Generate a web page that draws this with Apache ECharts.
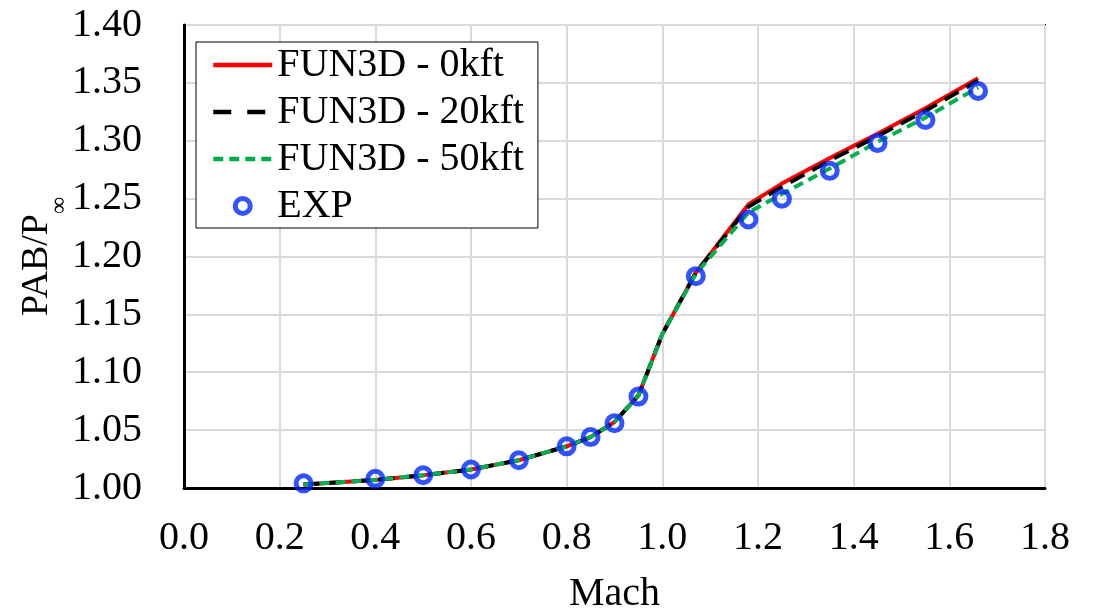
<!DOCTYPE html>
<html>
<head>
<meta charset="utf-8">
<script src="https://cdn.jsdelivr.net/npm/echarts@6/dist/echarts.min.js"></script>
<style>
  html, body { margin: 0; padding: 0; background: #fff; }
  #chart { width: 1096px; height: 610px; }
</style>
</head>
<body>
<div id="chart"></div>
<script>
// Mach numbers of the CFD runs and of the wind tunnel points
const machCfd = [0.25, 0.4, 0.5, 0.6, 0.7, 0.8, 0.85, 0.9, 0.95, 1.0, 1.07, 1.18, 1.25, 1.35, 1.45, 1.55, 1.66]
const fun3d0 = [1.003, 1.007, 1.011, 1.016, 1.024, 1.036, 1.044, 1.057, 1.080, 1.133, 1.186, 1.245, 1.263, 1.285, 1.306, 1.328, 1.354]
const fun3d20 = [1.003, 1.007, 1.011, 1.016, 1.024, 1.036, 1.044, 1.057, 1.080, 1.133, 1.186, 1.243, 1.260, 1.283, 1.304, 1.326, 1.352]
const fun3d50 = [1.003, 1.007, 1.011, 1.016, 1.024, 1.036, 1.044, 1.057, 1.080, 1.133, 1.185, 1.238, 1.254, 1.276, 1.299, 1.320, 1.346]

const machExp = [0.25, 0.4, 0.5, 0.6, 0.7, 0.8, 0.85, 0.9, 0.95, 1.07, 1.18, 1.25, 1.35, 1.45, 1.55, 1.66]
const expData = [1.004, 1.008, 1.011, 1.016, 1.024, 1.036, 1.044, 1.056, 1.079, 1.183, 1.232, 1.250, 1.274, 1.298, 1.318, 1.343]

const seriesNames = ['FUN3D - 0kft', 'FUN3D - 20kft', 'FUN3D - 50kft', 'EXP']

const zip = (xs, ys) => xs.map((x, i) => [x, ys[i]])
const font = 'Liberation Serif'
const blue = '#0028ff'

const chart = echarts.init(document.getElementById('chart'))
chart.setOption({
    animation: false,
    textStyle: { fontFamily: font, color: '#000' },
    grid: {
        left: 184,
        right: 51,
        top: 25,
        bottom: 122,
        outerBoundsMode: 'none',
        show: true,
        borderColor: '#000',
        borderWidth: 2,
        backgroundColor: '#fff'
    },
    legend: {
        orient: 'vertical',
        left: 196,
        top: 42,
        padding: [3, 14, 2, 15],
        itemGap: 7,
        itemWidth: 59,
        itemHeight: 15,
        backgroundColor: '#fff',
        borderColor: '#000',
        borderWidth: 1,
        textStyle: { fontFamily: font, fontSize: 40, color: '#000' },
        // 线条图例不画小圆点
        data: [
            { name: seriesNames[0], itemStyle: { opacity: 0 }, lineStyle: { width: 4.5 } },
            { name: seriesNames[1], itemStyle: { opacity: 0 }, lineStyle: { width: 4.5, type: [18, 16] } },
            { name: seriesNames[2], itemStyle: { opacity: 0 }, lineStyle: { width: 4.5 } },
            { name: seriesNames[3], itemStyle: { borderWidth: 5, borderColor: blue, color: 'rgba(0,0,0,0)' } }
        ]
    },
    xAxis: {
        type: 'value',
        min: 0,
        max: 1.8,
        interval: 0.2,
        name: 'Mach',
        nameLocation: 'middle',
        nameGap: 86,
        nameMoveOverlap: false,
        nameTextStyle: { fontFamily: font, fontSize: 40, color: '#000' },
        axisLine: { lineStyle: { color: '#000', width: 3 } },
        axisTick: { show: false },
        axisLabel: {
            margin: 30,
            fontFamily: font,
            fontSize: 40,
            color: '#000',
            formatter: v => v.toFixed(1)
        },
        splitLine: { lineStyle: { color: '#d9d9d9', width: 2 } }
    },
    yAxis: {
        type: 'value',
        min: 1.0,
        max: 1.4,
        interval: 0.05,
        name: '{a|PAB/P}{b|∞}',
        nameLocation: 'middle',
        nameGap: 112,
        nameMoveOverlap: false,
        nameTextStyle: {
            rich: {
                a: { fontFamily: font, fontSize: 38, color: '#000', verticalAlign: 'top' },
                b: { fontFamily: font, fontSize: 24, color: '#000', verticalAlign: 'bottom', padding: [30, 0, 0, 0] }
            }
        },
        axisLine: { show: true, lineStyle: { color: '#000', width: 3 } },
        axisTick: { show: false },
        axisLabel: {
            margin: 42,
            fontFamily: font,
            fontSize: 40,
            color: '#000',
            formatter: v => v.toFixed(2)
        },
        splitLine: { lineStyle: { color: '#d9d9d9', width: 2 } }
    },
    series: [
        {
            name: seriesNames[0],
            type: 'line',
            symbol: 'none',
            z: 2,
            lineStyle: { color: '#ff0000', width: 4 },
            itemStyle: { color: '#ff0000' },
            data: zip(machCfd, fun3d0)
        },
        {
            name: seriesNames[1],
            type: 'line',
            symbol: 'none',
            z: 3,
            lineStyle: { color: '#000', width: 4, type: [16, 9] },
            itemStyle: { color: '#000' },
            data: zip(machCfd, fun3d20)
        },
        {
            name: seriesNames[2],
            type: 'line',
            symbol: 'none',
            z: 4,
            lineStyle: { color: '#00b050', width: 4, type: [10, 6] },
            itemStyle: { color: '#00b050' },
            data: zip(machCfd, fun3d50)
        },
        {
            name: seriesNames[3],
            type: 'scatter',
            symbol: 'circle',
            symbolSize: 15,
            z: 5,
            itemStyle: { color: 'rgba(0,0,0,0)', borderColor: blue, borderWidth: 5 },
            data: zip(machExp, expData)
        }
    ]
})

window.addEventListener('resize', () => {
    chart.resize()
})
</script>
</body>
</html>
